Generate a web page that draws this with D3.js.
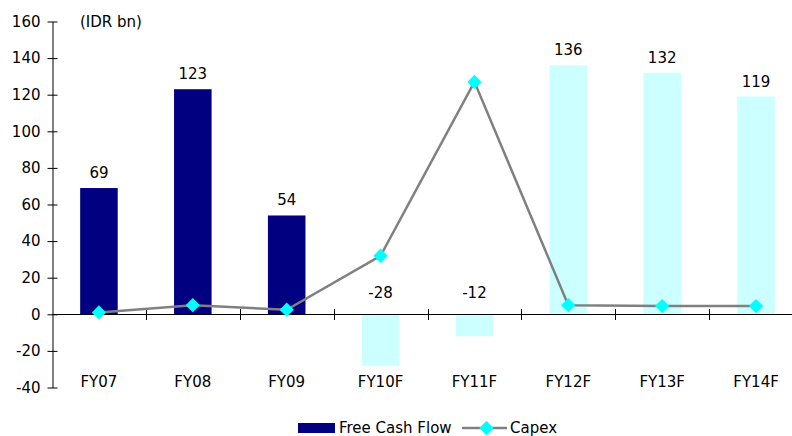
<!DOCTYPE html>
<html>
<head>
<meta charset="utf-8">
<script src="https://cdn.jsdelivr.net/npm/d3@7"></script>
<style>
  html, body { margin: 0; padding: 0; background: #fff; }
  svg { display: block; font-family: "DejaVu Sans", Verdana, sans-serif; }
</style>
</head>
<body>
<svg id="chart" width="792" height="436"></svg>
<script>
// Fiscal years (F = forecast)
const categories = ["FY07", "FY08", "FY09", "FY10F", "FY11F", "FY12F", "FY13F", "FY14F"];
const freeCashFlow = [69, 123, 54, -28, -12, 136, 132, 119];
const capex = [1, 5, 2.5, 32, 127, 5, 4.5, 4.5];
const forecast = [false, false, false, true, true, true, true, true];
const yTicks = [-40, -20, 0, 20, 40, 60, 80, 100, 120, 140, 160];

const svg = d3.select("#chart");
const fontSize = 15;

const x = d3.scaleBand().domain(categories).range([52, 803]).paddingInner(0.6).paddingOuter(0.3);
const xEdge = d3.scaleLinear().domain([0, categories.length]).range([52, 803]);
const y = d3.scaleLinear().domain([-40, 160]).range([387.5, 21.5]);

svg.append("defs").append("clipPath").attr("id", "plot-clip")
  .append("rect").attr("x", 0).attr("y", 0).attr("width", 792).attr("height", 436);

// Bars
svg.append("g").selectAll("rect")
  .data(categories)
  .join("rect")
  .attr("x", d => x(d))
  .attr("width", x.bandwidth())
  .attr("y", (d, i) => y(Math.max(0, freeCashFlow[i])))
  .attr("height", (d, i) => Math.abs(y(freeCashFlow[i]) - y(0)))
  .attr("fill", (d, i) => forecast[i] ? "#ccffff" : "#000080");

// Y axis
const yAxis = d3.axisLeft(y).tickValues(yTicks).tickFormat(d => String(d))
  .tickSizeInner(5).tickSizeOuter(0).tickPadding(7);
const gy = svg.append("g").attr("transform", "translate(52.5,0)").call(yAxis);
gy.select(".domain").attr("stroke", "#000");
gy.selectAll(".tick line").attr("x2", -5).attr("x1", 5).attr("stroke", "#000");
gy.selectAll(".tick text").attr("font-size", fontSize).attr("fill", "#000")
  .attr("font-family", "DejaVu Sans, Verdana, sans-serif");

// X axis along zero line, with ticks between categories
const gx = svg.append("g").attr("clip-path", "url(#plot-clip)");
gx.append("line")
  .attr("x1", 52).attr("x2", 803)
  .attr("y1", Math.round(y(0)) + 0.5).attr("y2", Math.round(y(0)) + 0.5)
  .attr("stroke", "#000");
gx.selectAll("line.xtick")
  .data(d3.range(1, categories.length + 1))
  .join("line")
  .attr("class", "xtick")
  .attr("x1", d => Math.round(xEdge(d)) + 0.5).attr("x2", d => Math.round(xEdge(d)) + 0.5)
  .attr("y1", Math.round(y(0)) - 5).attr("y2", Math.round(y(0)) + 6)
  .attr("stroke", "#000");

// Category labels below the axis
svg.append("g").selectAll("text")
  .data(categories)
  .join("text")
  .attr("x", d => x(d) + x.bandwidth() / 2)
  .attr("y", 387)
  .attr("text-anchor", "middle")
  .attr("font-size", fontSize)
  .text(d => d);

// Value labels for free cash flow
svg.append("g").selectAll("text")
  .data(categories)
  .join("text")
  .attr("x", d => x(d) + x.bandwidth() / 2)
  .attr("y", (d, i) => freeCashFlow[i] >= 0 ? y(freeCashFlow[i]) - 10 : y(0) - 16)
  .attr("text-anchor", "middle")
  .attr("font-size", fontSize)
  .text((d, i) => String(freeCashFlow[i]));

// Capex line
const cx = d => x(d) + x.bandwidth() / 2;
const line = d3.line().x((d, i) => cx(categories[i])).y(d => y(d));
svg.append("path")
  .datum(capex)
  .attr("d", line)
  .attr("fill", "none")
  .attr("stroke", "#808080")
  .attr("stroke-width", 2.5);

const diamond = d3.symbol().type(d3.symbolDiamond2).size(130);
svg.append("g").selectAll("path")
  .data(capex)
  .join("path")
  .attr("transform", (d, i) => `translate(${cx(categories[i])},${y(d)})`)
  .attr("d", diamond)
  .attr("fill", "#00ffff");

// Unit label
svg.append("text").attr("x", 80).attr("y", 27).attr("font-size", fontSize).text("(IDR bn)");

// Legend
const lg = svg.append("g");
lg.append("rect").attr("x", 298).attr("y", 423).attr("width", 37).attr("height", 10).attr("fill", "#000080");
lg.append("text").attr("x", 339).attr("y", 433).attr("font-size", fontSize).text("Free Cash Flow");
lg.append("line").attr("x1", 462).attr("x2", 507).attr("y1", 428).attr("y2", 428)
  .attr("stroke", "#808080").attr("stroke-width", 2.5);
lg.append("path").attr("transform", "translate(486.5,428)").attr("d", diamond).attr("fill", "#00ffff");
lg.append("text").attr("x", 510).attr("y", 433).attr("font-size", fontSize).text("Capex");
</script>
</body>
</html>
